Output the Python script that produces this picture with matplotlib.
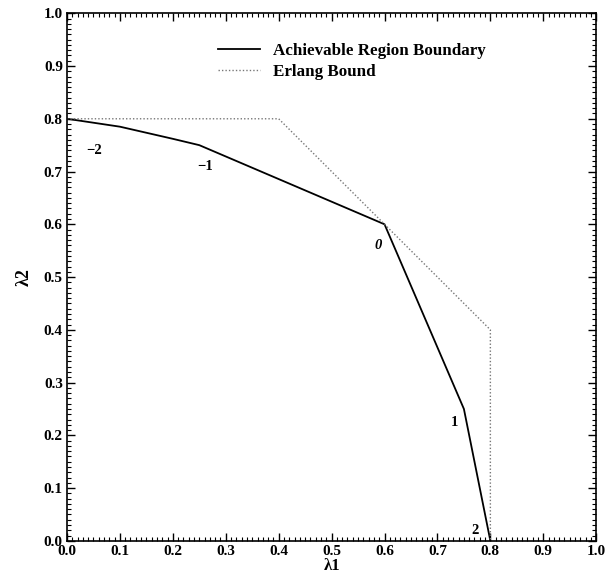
import matplotlib
matplotlib.use("Agg")
import matplotlib.pyplot as plt
from matplotlib.ticker import MultipleLocator
import numpy as np

plt.rcParams['font.family'] = ['Liberation Serif', 'DejaVu Serif']

# Data
ach_x = [0.0, 0.1, 0.2, 0.25, 0.6, 0.75, 0.8]
ach_y = [0.8, 0.785, 0.762, 0.75, 0.6, 0.25, 0.0]
erl_x = [0.0, 0.4, 0.6, 0.8, 0.8]
erl_y = [0.8, 0.8, 0.6, 0.4, 0.0]
pt_labels = ["\u22122", "\u22121", "0", "1", "2"]
pt_lab_x = [0.051, 0.261, 0.588, 0.733, 0.771]
pt_lab_y = [0.739, 0.710, 0.560, 0.225, 0.020]
ticks = [0.0, 0.1, 0.2, 0.3, 0.4, 0.5, 0.6, 0.7, 0.8, 0.9, 1.0]
tick_labels = ["0.0", "0.1", "0.2", "0.3", "0.4", "0.5", "0.6", "0.7", "0.8", "0.9", "1.0"]

fig = plt.figure(figsize=(6.09, 5.76), dpi=100)
ax = fig.add_axes([0.110, 0.061, 0.869, 0.916])

ax.plot(ach_x, ach_y, color='black', lw=1.3, label='Achievable Region Boundary')
ax.plot(erl_x, erl_y, color='#777777', lw=1.0, linestyle=(0, (1, 1.5)), label='Erlang Bound')

for t, x, y in zip(pt_labels, pt_lab_x, pt_lab_y):
    ax.text(x, y, t, ha='center', va='center', fontsize=10.5, fontweight='bold',
            style='italic' if t == "0" else 'normal')

ax.set_xlim(0, 1)
ax.set_ylim(0, 1)
ax.set_xticks(ticks)
ax.set_xticklabels(tick_labels)
ax.set_yticks(ticks)
ax.set_yticklabels(tick_labels)
ax.xaxis.set_minor_locator(MultipleLocator(0.01))
ax.yaxis.set_minor_locator(MultipleLocator(0.01))
ax.tick_params(which='both', direction='in', top=True, right=True, labelsize=11, pad=3)
ax.tick_params(which='major', length=6, width=1)
ax.tick_params(which='minor', length=3, width=0.8)
for lab in ax.get_xticklabels() + ax.get_yticklabels():
    lab.set_fontweight('bold')
for s in ax.spines.values():
    s.set_linewidth(1.2)

ax.set_xlabel("\u03bb1", fontsize=12, labelpad=0, fontweight='bold')
ax.set_ylabel("\u03bb2", fontsize=13, labelpad=8, fontweight='bold')

leg = ax.legend(loc='upper left', bbox_to_anchor=(0.256, 0.972), frameon=False,
                handlelength=2.5, handletextpad=0.75, labelspacing=0.3,
                prop={'weight': 'bold', 'size': 12.25})

fig.savefig('out.png', dpi=100)
